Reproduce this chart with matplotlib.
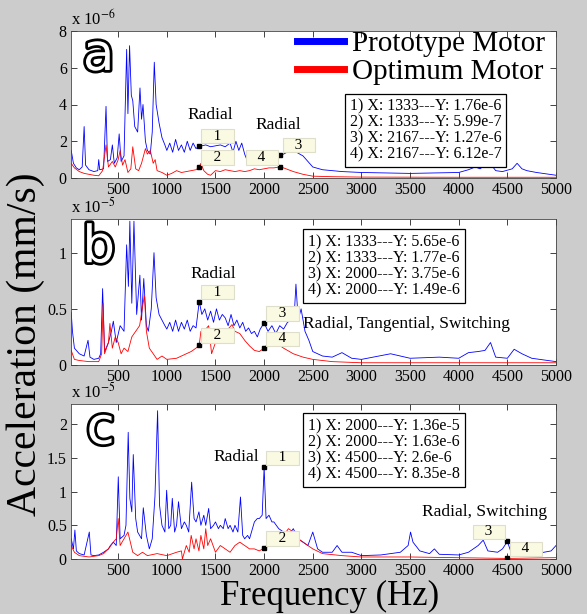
import matplotlib
matplotlib.use('Agg')
import matplotlib.pyplot as plt
import matplotlib.patheffects as pe
from matplotlib.ticker import FuncFormatter

plt.rcParams['font.family'] = 'Liberation Serif'
plt.rcParams['mathtext.fontset'] = 'stix'

# ---- data (a: x1e-6, b and c: x1e-5) ----
a_proto_f = [17, 40, 70, 100, 130, 150, 165, 200, 250, 290, 300, 310, 350, 375, 390, 420, 440, 460,
             490, 510, 530, 560, 587, 600, 617, 635, 650, 670, 700, 724, 740, 755, 780, 800, 830, 850,
             871, 890, 920, 950, 980, 1000, 1030, 1060, 1090, 1120, 1150, 1180, 1210, 1240, 1270, 1300,
             1333, 1360, 1400, 1450, 1500, 1550, 1600, 1650, 1680, 1710, 1740, 1770, 1800, 1830, 1860,
             1900, 1950, 2000, 2050, 2100, 2167, 2200, 2250, 2300, 2350, 2400, 2450, 2500, 2600, 2800,
             3000, 3200, 3500, 3800, 4000, 4100, 4170, 4220, 4270, 4330, 4380, 4450, 4550, 4600, 4650,
             4700, 4800, 5000]
a_proto_v = [1.5, 0.8, 0.55, 0.45, 0.6, 2.8, 0.7, 0.45, 0.35, 0.4, 1.0, 0.45, 0.5, 3.9, 0.9, 1.0, 1.8, 0.8,
             1.1, 2.4, 0.9, 1.2, 7.0, 3.5, 7.2, 4.5, 4.2, 2.8, 2.5, 4.9, 3.2, 4.0, 2.0, 1.5, 1.3, 2.5,
             6.3, 4.0, 3.0, 2.2, 1.8, 1.5, 1.9, 1.4, 2.1, 1.5, 1.8, 1.4, 2.0, 1.5, 1.9, 1.6,
             1.76, 1.75, 1.8, 1.7, 1.75, 1.8, 1.7, 1.9, 1.4, 2.0, 1.5, 1.9, 1.3, 0.9, 0.95,
             0.9, 1.0, 0.95, 1.05, 1.1, 1.27, 1.3, 1.45, 1.5, 1.35, 1.2, 0.9, 0.6, 0.45, 0.35,
             0.3, 0.28, 0.25, 0.28, 0.3, 0.45, 0.6, 0.5, 0.7, 0.75, 0.4, 0.35, 0.5, 0.8, 0.5,
             0.4, 0.3, 0.15]
a_opt_f = [17, 50, 100, 150, 200, 250, 300, 340, 375, 400, 440, 470, 500, 520, 545, 570, 600, 630, 650,
           680, 710, 740, 780, 800, 830, 860, 880, 900, 950, 1000, 1050, 1100, 1150, 1200, 1250, 1300,
           1333, 1350, 1380, 1420, 1450, 1500, 1550, 1600, 1650, 1700, 1750, 1800, 1850, 1900, 1950,
           2000, 2050, 2100, 2167, 2200, 2250, 2300, 2400, 2500, 2700, 3000, 4000, 5000]
a_opt_v = [0.8, 0.55, 0.35, 0.25, 0.2, 0.15, 0.12, 0.4, 1.8, 0.6, 0.9, 0.6, 1.0, 1.5, 0.7, 1.0, 0.3, 0.5, 1.7,
           0.5, 0.4, 0.8, 1.6, 1.3, 1.5, 0.8, 1.0, 0.4, 0.3, 0.15, 0.25, 0.4, 0.3, 0.35, 0.4, 0.45,
           0.6, 0.8, 0.4, 0.2, 0.15, 0.4, 0.35, 0.45, 0.4, 0.35, 0.4, 0.35, 0.4, 0.5, 0.45,
           0.5, 0.55, 0.55, 0.61, 0.55, 0.45, 0.35, 0.2, 0.1, 0.07, 0.05, 0.04, 0.04]

b_proto_f = [17, 30, 50, 100, 150, 190, 210, 250, 300, 320, 340, 360, 400, 430, 450, 480, 520, 560, 587,
             605, 620, 640, 662, 690, 723, 740, 763, 790, 810, 840, 868, 890, 920, 950, 980, 1000, 1030,
             1060, 1090, 1120, 1150, 1180, 1210, 1240, 1270, 1300, 1333, 1360, 1390, 1420, 1450, 1480,
             1510, 1540, 1570, 1600, 1630, 1660, 1690, 1720, 1750, 1780, 1810, 1840, 1870, 1900, 1930,
             1960, 2000, 2040, 2080, 2120, 2160, 2200, 2240, 2280, 2310, 2327, 2350, 2380, 2420, 2460,
             2500, 2600, 2700, 2800, 2900, 3000, 3300, 3500, 3800, 4000, 4100, 4200, 4270, 4327, 4380,
             4500, 4570, 4650, 4750, 5000]
b_proto_v = [0.47, 0.3, 0.15, 0.1, 0.08, 0.22, 0.07, 0.05, 0.06, 0.1, 0.68, 0.12, 0.2, 0.3, 0.39, 0.2, 0.35, 0.3, 1.07,
             0.7, 1.28, 0.55, 1.28, 0.45, 0.8, 0.4, 0.77, 0.35, 0.3, 0.5, 1.0, 0.6, 0.45, 0.4, 0.35, 0.32, 0.38,
             0.3, 0.4, 0.3, 0.38, 0.32, 0.4, 0.3, 0.35, 0.33, 0.565, 0.45, 0.5, 0.4, 0.48, 0.38,
             0.5, 0.4, 0.45, 0.42, 0.35, 0.45, 0.35, 0.4, 0.33, 0.38, 0.3, 0.33, 0.28, 0.3, 0.25,
             0.32, 0.375, 0.3, 0.35, 0.28, 0.35, 0.32, 0.38, 0.4, 0.45, 0.72, 0.4, 0.5, 0.3, 0.22,
             0.12, 0.08, 0.07, 0.11, 0.06, 0.05, 0.1, 0.06, 0.07, 0.06, 0.11, 0.12, 0.13, 0.2, 0.07,
             0.06, 0.14, 0.1, 0.06, 0.03]
b_opt_f = [17, 50, 100, 200, 300, 330, 345, 360, 400, 415, 440, 470, 500, 530, 560, 600, 640, 680, 720,
           769, 790, 820, 860, 900, 950, 1000, 1100, 1200, 1250, 1300, 1333, 1350, 1380, 1410, 1430,
           1460, 1500, 1550, 1600, 1640, 1670, 1700, 1750, 1800, 1850, 1900, 1950, 2000, 2050, 2100,
           2150, 2200, 2300, 2400, 2500, 2700, 3000, 5000]
b_opt_v = [0.13, 0.05, 0.04, 0.03, 0.03, 0.1, 0.55, 0.1, 0.2, 0.37, 0.15, 0.25, 0.2, 0.1, 0.15, 0.12, 0.25, 0.3, 0.35,
           0.62, 0.3, 0.15, 0.1, 0.05, 0.08, 0.05, 0.06, 0.1, 0.12, 0.15, 0.177, 0.3, 0.2, 0.33, 0.35,
           0.1, 0.2, 0.22, 0.3, 0.33, 0.36, 0.3, 0.28, 0.22, 0.17, 0.13, 0.12, 0.149, 0.2, 0.2,
           0.18, 0.15, 0.1, 0.07, 0.05, 0.03, 0.02, 0.02]

c_proto_f = [17, 40, 55, 70, 100, 150, 203, 220, 250, 300, 350, 400, 420, 450, 480, 501, 520, 560, 580,
             603, 620, 640, 655, 680, 700, 740, 758, 790, 820, 850, 878, 905, 925, 950, 980, 998, 1020,
             1040, 1056, 1080, 1100, 1120, 1150, 1180, 1200, 1225, 1255, 1280, 1300, 1330, 1350, 1380,
             1400, 1430, 1450, 1480, 1500, 1530, 1550, 1580, 1600, 1630, 1650, 1680, 1700, 1730, 1757,
             1780, 1800, 1830, 1850, 1880, 1900, 1930, 1950, 1980, 2000, 2020, 2050, 2080, 2100, 2150,
             2200, 2250, 2300, 2350, 2400, 2450, 2500, 2550, 2600, 2700, 2750, 2800, 2900, 3000, 3200,
             3400, 3480, 3505, 3530, 3600, 3700, 3750, 3800, 4000, 4100, 4200, 4252, 4300, 4400, 4450,
             4500, 4550, 4700, 4800, 4950, 5000]
c_proto_v = [0.3, 0.15, 0.43, 0.12, 0.08, 0.06, 0.4, 0.06, 0.05, 0.06, 0.1, 0.15, 0.2, 0.25, 0.2, 1.22, 0.3, 0.35, 0.5,
             1.88, 0.9, 0.7, 1.55, 0.6, 0.4, 0.3, 0.76, 0.35, 0.15, 0.3, 0.93, 2.2, 0.8, 0.5, 0.4, 1.02, 0.45,
             0.5, 0.9, 0.4, 0.5, 0.85, 0.45, 0.55, 0.5, 0.4, 1.14, 0.6, 0.55, 0.7, 0.5, 0.65,
             0.5, 0.75, 0.45, 0.5, 0.55, 0.45, 0.5, 0.45, 0.6, 0.45, 0.5, 0.4, 0.5, 0.4, 0.92,
             0.35, 0.3, 0.35, 0.3, 0.45, 0.55, 0.6, 0.6, 0.65, 1.36, 0.6, 0.65, 0.55, 0.55, 0.45,
             0.4, 0.35, 0.45, 0.3, 0.25, 0.2, 0.4, 0.15, 0.1, 0.1, 0.2, 0.1, 0.1, 0.05, 0.06,
             0.1, 0.2, 0.4, 0.25, 0.12, 0.08, 0.15, 0.07, 0.06, 0.1, 0.2, 0.28, 0.12, 0.1, 0.15,
             0.26, 0.05, 0.07, 0.08, 0.12, 0.2]
c_opt_f = [17, 50, 100, 200, 300, 350, 400, 450, 480, 500, 520, 560, 600, 650, 700, 750, 800, 900, 1000,
           1100, 1150, 1160, 1200, 1230, 1250, 1280, 1300, 1330, 1350, 1380, 1400, 1420, 1450, 1500,
           1550, 1600, 1650, 1700, 1750, 1800, 1850, 1900, 1950, 2000, 2050, 2100, 2150, 2200, 2250,
           2300, 2350, 2400, 2500, 2600, 2800, 3000, 3500, 4500, 5000]
c_opt_v = [0.2, 0.1, 0.05, 0.03, 0.05, 0.08, 0.15, 0.25, 0.3, 0.6, 0.2, 0.3, 0.4, 0.1, 0.05, 0.1, 0.05, 0.08, 0.05,
           0.1, 0.12, 0.0, 0.2, 0.1, 0.35, 0.15, 0.3, 0.12, 0.35, 0.15, 0.45, 0.2, 0.3, 0.1,
           0.2, 0.15, 0.1, 0.2, 0.25, 0.2, 0.15, 0.15, 0.12, 0.163, 0.2, 0.25, 0.3, 0.35, 0.45,
           0.4, 0.3, 0.25, 0.15, 0.08, 0.05, 0.03, 0.03, 0.0084, 0.02]

# data tips: (freq, value, label, side)
a_tips = [(1333, 1.76, '1', 'r'), (1333, 0.599, '2', 'r'), (2167, 1.27, '3', 'r'), (2167, 0.612, '4', 'l')]
b_tips = [(1333, 0.565, '1', 'r'), (1333, 0.177, '2', 'r'), (2000, 0.375, '3', 'r'), (2000, 0.149, '4', 'r')]
c_tips = [(2000, 1.36, '1', 'r'), (2000, 0.163, '2', 'r'), (4500, 0.26, '3', 'l'), (4500, 0.00835, '4', 'r')]

a_info = ["1) X: 1333---Y: 1.76e-6", "2) X: 1333---Y: 5.99e-7",
          "3) X: 2167---Y: 1.27e-6", "4) X: 2167---Y: 6.12e-7"]
b_info = ["1) X: 1333---Y: 5.65e-6", "2) X: 1333---Y: 1.77e-6",
          "3) X: 2000---Y: 3.75e-6", "4) X: 2000---Y: 1.49e-6"]
c_info = ["1) X: 2000---Y: 1.36e-5", "2) X: 2000---Y: 1.63e-6",
          "3) X: 4500---Y: 2.6e-6", "4) X: 4500---Y: 8.35e-8"]

# (text, freq, value) label positions
a_notes = [("Radial", 1443, 3.43), ("Radial", 2142, 2.88)]
b_notes = [("Radial", 1474, 0.81), ("Radial, Tangential, Switching", 3468, 0.366)]
c_notes = [("Radial", 1710, 1.51), ("Radial, Switching", 4269, 0.70)]

xticks = [500, 1000, 1500, 2000, 2500, 3000, 3500, 4000, 4500, 5000]

W, H = 587, 614
fig = plt.figure(figsize=(W / 100, H / 100), dpi=100, facecolor='#cccccc')

panels = [
    dict(box=(71, 31, 556, 178), letter='a', exp='-6', ylim=8, yt=[0, 2, 4, 6, 8],
         proto=(a_proto_f, a_proto_v), opt=(a_opt_f, a_opt_v), tips=a_tips, info=a_info,
         info_xy=(0.575, 0.54), notes=a_notes, let_xy=(0.057, 0.83)),
    dict(box=(71, 219, 556, 365), letter='b', exp='-5', ylim=1.3, yt=[0, 0.5, 1],
         proto=(b_proto_f, b_proto_v), opt=(b_opt_f, b_opt_v), tips=b_tips, info=b_info,
         info_xy=(0.489, 0.897), notes=b_notes, let_xy=(0.057, 0.80)),
    dict(box=(71, 404, 556, 559), letter='c', exp='-5', ylim=2.3, yt=[0, 0.5, 1, 1.5, 2],
         proto=(c_proto_f, c_proto_v), opt=(c_opt_f, c_opt_v), tips=c_tips, info=c_info,
         info_xy=(0.489, 0.91), notes=c_notes, let_xy=(0.061, 0.835)),
]

serif = 'Liberation Serif'
nb = '\u00a0'
for p in panels:
    l, t, r, b = p['box']
    ax = fig.add_axes([l / W, 1 - b / H, (r - l) / W, (b - t) / H])
    ax.set_facecolor('white')
    line_p, = ax.plot(*p['proto'], color='#0000ff', lw=0.6, label='Prototype Motor')
    line_o, = ax.plot(*p['opt'], color='#ff0000', lw=0.6, label='Optimum Motor')
    ax.set_xlim(15, 5000)
    ax.set_ylim(0, p['ylim'])
    ax.set_xticks(xticks)
    ax.set_yticks(p['yt'])
    ax.yaxis.set_major_formatter(FuncFormatter(lambda v, pos: '{:g}'.format(v)))
    ax.tick_params(direction='in', top=True, right=True, length=4, width=0.6,
                   labelsize=11.5, pad=3, colors='#222222', labelcolor='black')
    for s in ax.spines.values():
        s.set_linewidth(0.6)
        s.set_color('#444444')

    ax.text(0.0, 1.015, r'x 10$^{%s}$' % p['exp'], transform=ax.transAxes,
            ha='left', va='bottom', fontsize=12)

    ax.text(*p['let_xy'], p['letter'], transform=ax.transAxes, ha='center', va='center',
            fontsize=37, color='white', family='DejaVu Sans',
            path_effects=[pe.withStroke(linewidth=4, foreground='black')], zorder=6)

    for f, v, lab, side in p['tips']:
        ax.plot(f, v, 's', color='black', ms=3.5, zorder=7)
        dx = 3 if side == 'r' else -3
        ax.annotate(nb * 3 + lab + nb * 3, xy=(f, v), xytext=(dx, 3), textcoords='offset pixels',
                    ha='left' if side == 'r' else 'right', va='bottom', fontsize=11,
                    bbox=dict(boxstyle='square,pad=0.05', fc='#fafae3', ec='#dedecb', lw=0.8),
                    zorder=8)

    ax.text(*p['info_xy'], '\n'.join(p['info']), transform=ax.transAxes, ha='left', va='top',
            fontsize=11.5, linespacing=1.0, zorder=9,
            bbox=dict(boxstyle='square,pad=0.3', fc='white', ec='black', lw=0.9))

    for txt, f, v in p['notes']:
        ax.text(f, v, txt, ha='center', va='center', fontsize=12.5, zorder=8)

    if p['letter'] == 'a':
        leg = ax.legend(handles=[line_p, line_o], loc='upper left', bbox_to_anchor=(0.466, 1.0),
                        frameon=False, prop={'family': serif, 'size': 21}, handlelength=1.6,
                        handletextpad=0.3, labelspacing=0.05, borderpad=0, borderaxespad=0)
        for ln in leg.get_lines():
            ln.set_linewidth(5)
        for tx in leg.get_texts():
            tx.set_fontfamily(serif)

fig.text(26 / W, 1 - 344 / H, 'Acceleration (mm/s)', rotation=90, ha='center', va='center',
         fontsize=30)
fig.text(330 / W, 1 - 605 / H, 'Frequency (Hz)', ha='center', va='baseline', fontsize=25)

fig.savefig('out.png', dpi=100, facecolor=fig.get_facecolor())
